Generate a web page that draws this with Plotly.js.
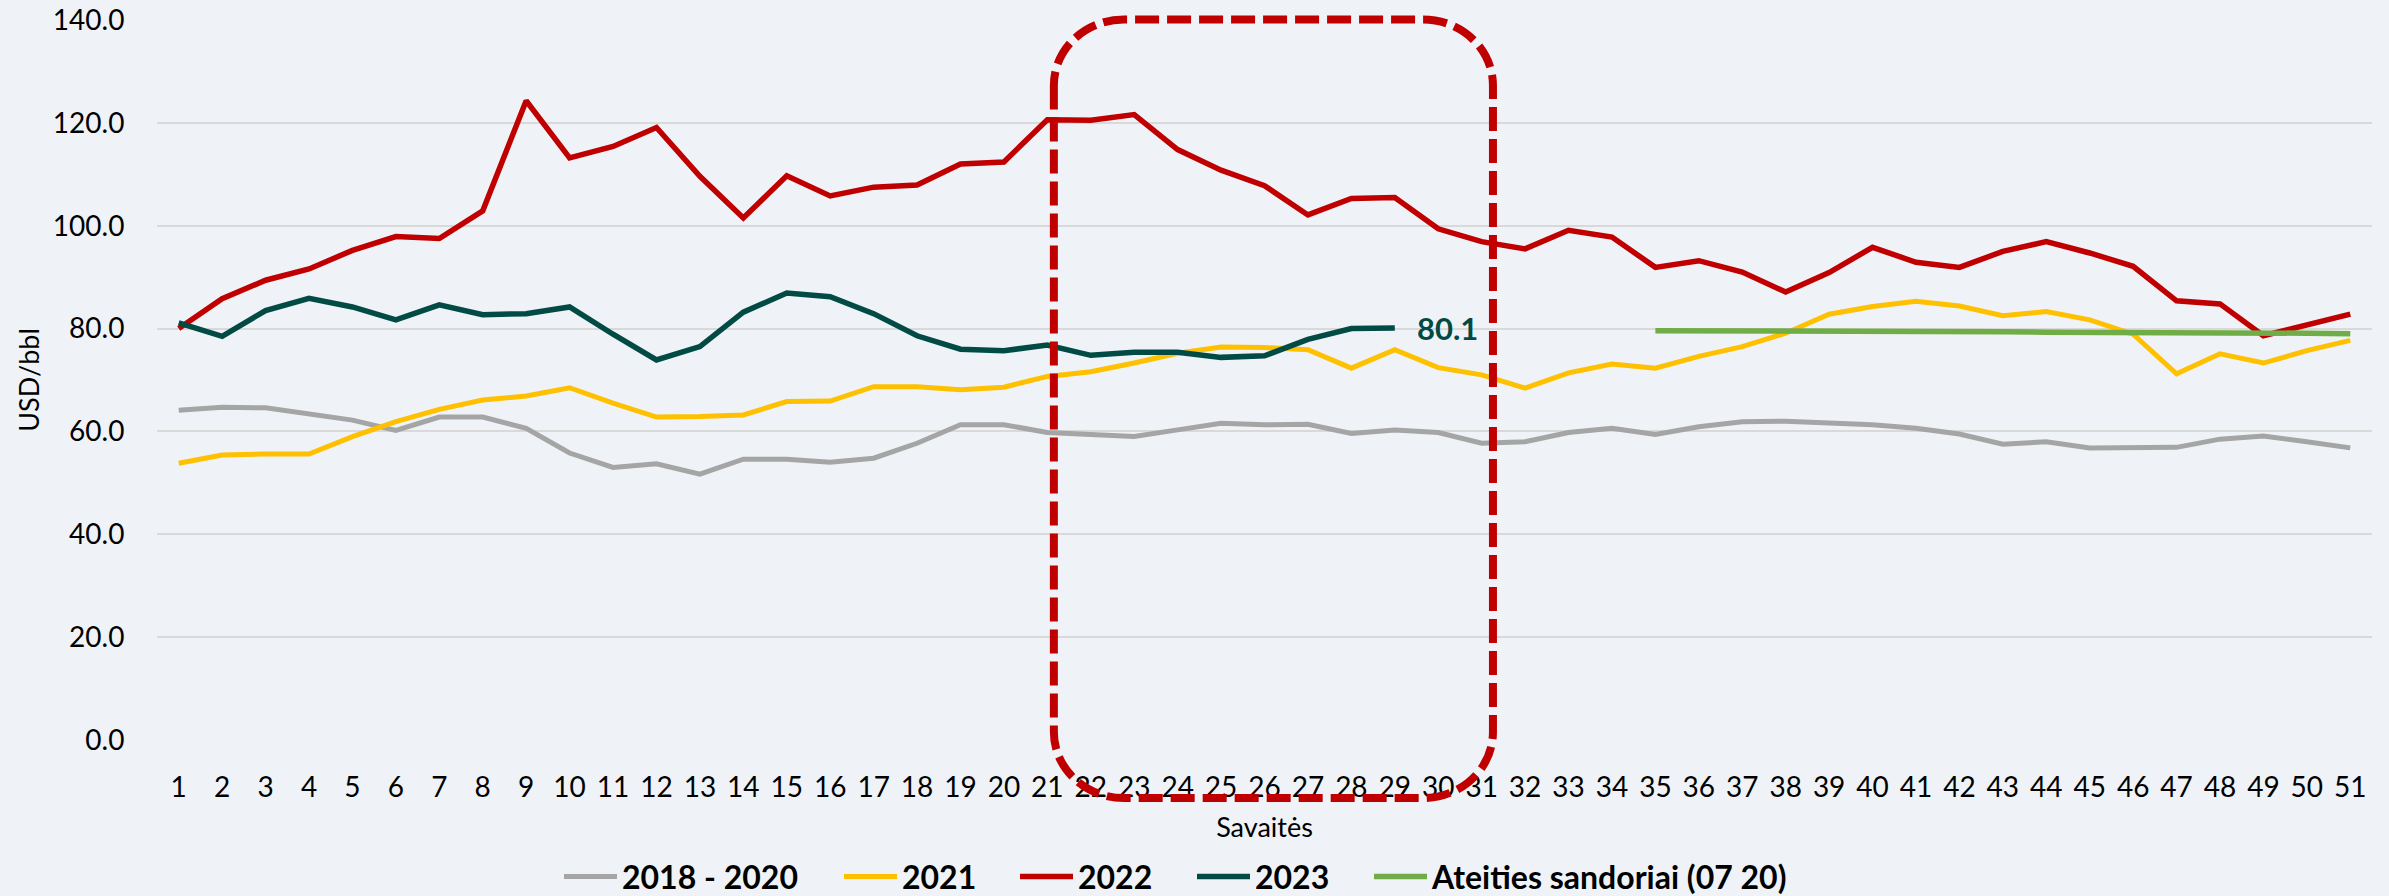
<!DOCTYPE html>
<html>
<head>
<meta charset="utf-8">
<script src="https://cdn.plot.ly/plotly-3.0.1.min.js"></script>
<style>
html, body { margin: 0; padding: 0; background: #EFF3F7; }
#chart { width: 2389px; height: 896px; }
</style>
</head>
<body>
<div id="chart"></div>
<script>
// ---- data ----
const weeks = [1,2,3,4,5,6,7,8,9,10,11,12,13,14,15,16,17,18,19,20,21,22,23,24,25,26,27,28,29,30,31,32,33,34,35,36,37,38,39,40,41,42,43,44,45,46,47,48,49,50,51];

const s1820 = [64.1,64.7,64.6,63.5,62.2,60.2,62.8,62.8,60.6,55.8,
               53.0,53.7,51.7,54.6,54.6,54.0,54.8,57.7,61.3,61.3,
               59.8,59.4,59.0,60.3,61.6,61.3,61.4,59.6,60.3,59.8,
               57.7,58.0,59.8,60.6,59.4,60.9,61.9,62.0,61.7,61.3,
               60.6,59.5,57.5,58.0,56.8,56.8,56.9,58.5,59.1,58.0,56.8];

const s2021 = [53.8,55.4,55.6,55.6,59.0,61.9,64.3,66.1,66.9,68.5,
               65.5,62.8,62.9,63.2,65.8,65.9,68.7,68.7,68.1,68.6,
               70.7,71.6,73.3,75.2,76.4,76.3,75.9,72.3,75.9,72.4,
               71.0,68.4,71.4,73.1,72.3,74.6,76.5,79.1,82.8,84.3,
               85.3,84.4,82.5,83.3,81.7,78.9,71.2,75.1,73.3,75.7,77.7];

const s2022 = [80.0,85.8,89.4,91.6,95.2,97.9,97.5,102.9,124.3,113.2,
               115.4,119.1,109.6,101.5,109.7,105.8,107.5,107.9,112.0,112.4,
               120.6,120.5,121.6,114.8,110.8,107.8,102.1,105.3,105.5,99.4,
               96.9,95.5,99.1,97.8,91.9,93.2,91.0,87.1,90.9,95.8,
               92.9,91.9,95.0,96.9,94.7,92.1,85.4,84.8,78.6,80.7,82.8];

const s2023 = [81.1,78.5,83.5,85.9,84.2,81.7,84.6,82.7,82.9,84.2,
               78.9,73.9,76.5,83.2,86.9,86.2,82.9,78.6,76.0,75.7,
               76.8,74.8,75.4,75.4,74.4,74.7,77.9,80.0,80.1];

const weeksFut = [35,36,37,38,39,40,41,42,43,44,45,46,47,48,49,50,51];
const sFut = [79.6,79.6,79.6,79.6,79.5,79.5,79.5,79.5,79.4,79.3,79.3,79.3,79.2,79.2,79.1,79.1,79.0];

const seriesNames = ['2018 - 2020', '2021', '2022', '2023', 'Ateities sandoriai (07 20)'];
const yTickVals = [0, 20, 40, 60, 80, 100, 120, 140];
const xTitle = 'Savaitės';
const yTitle = 'USD/bbl';

// highlighted weeks (dashed box) as week numbers
const boxWeeks = [21.15, 31.26];

// ---- styling ----
const FONT = 'Lato, "Open Sans", "DejaVu Sans", sans-serif';
const colors = ['#A5A5A5', '#FFC000', '#C00000', '#024B44', '#70AD47'];

const M = { l: 157, r: 17, t: 20, b: 156, autoexpand: false };
const W = 2389, H = 896;
const plotW = W - M.l - M.r, plotH = H - M.t - M.b;

const xs = [weeks, weeks, weeks, weeks.slice(0, s2023.length), weeksFut];
const ys = [s1820, s2021, s2022, s2023, sFut];
const widths = [5, 5, 5.5, 5.5, 5.5];
const legendIds = ['legend', 'legend2', 'legend3', 'legend4', 'legend5'];
const legendPx = [559, 839, 1015, 1192, 1369];

const traces = seriesNames.map((n, i) => ({
  x: xs[i], y: ys[i], name: n, type: 'scatter', mode: 'lines',
  line: { color: colors[i], width: widths[i] },
  legend: legendIds[i], hoverinfo: 'x+y+name'
}));

const legendFont = { family: FONT, size: 32, color: '#000000', weight: 'bold' };
const layout = {
  width: W, height: H,
  paper_bgcolor: '#EFF3F7', plot_bgcolor: '#EFF3F7',
  margin: M,
  showlegend: true,
  font: { family: FONT, color: '#000000' },
  xaxis: {
    range: [0.5, 51.5], tickmode: 'array', tickvals: weeks, ticktext: weeks.map(String),
    showgrid: false, zeroline: false, showline: false, automargin: false,
    ticks: 'outside', ticklen: 22, tickcolor: 'rgba(0,0,0,0)',
    tickfont: { family: FONT, size: 28, color: '#000000' },
    title: { text: xTitle, font: { family: FONT, size: 27, color: '#000000' }, standoff: 16 },
    fixedrange: true
  },
  yaxis: {
    range: [0, 140], tickmode: 'array', tickvals: yTickVals, ticktext: yTickVals.map(v => v.toFixed(1)),
    showgrid: true, gridcolor: '#D9D9D9', gridwidth: 2,
    zeroline: false, showline: false, automargin: false,
    ticks: 'outside', ticklen: 26, tickcolor: 'rgba(0,0,0,0)',
    tickfont: { family: FONT, size: 28, color: '#000000' },
    title: { text: yTitle, font: { family: FONT, size: 27, color: '#000000' }, standoff: 5 },
    fixedrange: true
  },
  annotations: [{
    x: weeks[s2023.length - 1], y: s2023[s2023.length - 1], xref: 'x', yref: 'y',
    text: s2023[s2023.length - 1].toFixed(1), showarrow: false,
    xanchor: 'left', yanchor: 'middle', xshift: 20,
    font: { family: FONT, size: 31, color: colors[3], weight: 'bold' }
  }],
  shapes: []
};

legendIds.forEach((id, i) => {
  layout[id] = {
    orientation: 'h', x: (legendPx[i] - M.l) / plotW, xanchor: 'left',
    y: 1 - (876.7 - M.t) / plotH, yanchor: 'middle',
    yref: 'paper', xref: 'paper',
    font: legendFont, bgcolor: 'rgba(0,0,0,0)', borderwidth: 0,
    itemwidth: 53, itemclick: false, itemdoubleclick: false
  };
});

// rounded dashed box: x in week units, y in paper units
(function () {
  const L = boxWeeks[0], R = boxWeeks[1];
  const T = 1 - (19.5 - M.t) / plotH;
  const B = 1 - (798 - M.t) / plotH;
  const rx = 70 / (plotW / 51), ry = 66 / plotH;
  const k = 0.5523;
  const p = [
    `M${L},${T - ry}`,
    `L${L},${B + ry}`,
    `C${L},${B + ry * (1 - k)} ${L + rx * (1 - k)},${B} ${L + rx},${B}`,
    `L${R - rx},${B}`,
    `C${R - rx * (1 - k)},${B} ${R},${B + ry * (1 - k)} ${R},${B + ry}`,
    `L${R},${T - ry}`,
    `C${R},${T - ry * (1 - k)} ${R - rx * (1 - k)},${T} ${R - rx},${T}`,
    `L${L + rx},${T}`,
    `C${L + rx * (1 - k)},${T} ${L},${T - ry * (1 - k)} ${L},${T - ry}`,
    'Z'
  ].join(' ');
  layout.shapes.push({
    type: 'path', xref: 'x', yref: 'paper', path: p, layer: 'above',
    line: { color: '#C00000', width: 8, dash: '24px,8px' },
    fillcolor: 'rgba(0,0,0,0)'
  });
})();

Plotly.newPlot('chart', traces, layout, { displayModeBar: false, responsive: false });
</script>
</body>
</html>
